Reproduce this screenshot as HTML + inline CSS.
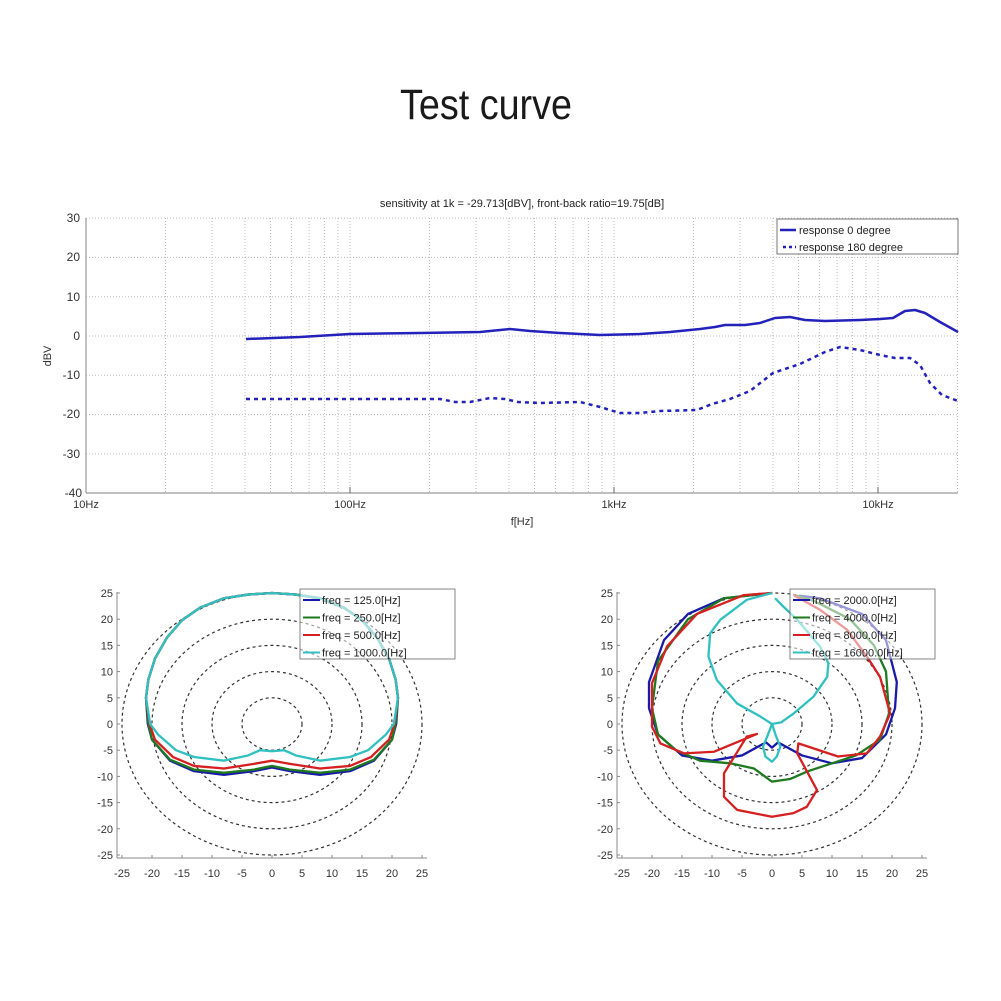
<!DOCTYPE html>
<html><head><meta charset="utf-8"><style>
html,body{margin:0;padding:0;background:#fff;}
svg{display:block;font-family:"Liberation Sans",sans-serif;}
</style></head><body>
<svg id="s" width="1001" height="1001" viewBox="0 0 1001 1001" xmlns="http://www.w3.org/2000/svg">
<rect width="1001" height="1001" fill="#fff"/>
<text x="486" y="119" font-size="43" text-anchor="middle" textLength="172" lengthAdjust="spacingAndGlyphs" fill="#1a1a1a">Test curve</text>
<g id="topg"></g>
<text x="522" y="207" font-size="11" text-anchor="middle" fill="#222">sensitivity at 1k = -29.713[dBV], front-back ratio=19.75[dB]</text>
<g font-size="12" fill="#333" text-anchor="end">
<text x="80" y="222">30</text><text x="80" y="261">20</text><text x="80" y="301">10</text><text x="80" y="340">0</text>
<text x="80" y="379">-10</text><text x="80" y="418">-20</text><text x="80" y="458">-30</text><text x="82" y="497">-40</text>
</g>
<g font-size="11" fill="#333" text-anchor="middle">
<text x="86" y="508">10Hz</text><text x="350" y="508">100Hz</text><text x="614" y="508">1kHz</text><text x="878" y="508">10kHz</text>
<text x="522" y="525">f[Hz]</text>
</g>
<text x="51" y="356" font-size="11" fill="#333" text-anchor="middle" transform="rotate(-90 51 356)">dBV</text>
<g id="p1"></g><g id="p2"></g>
<rect x="777" y="219" width="181" height="35" fill="#fff" stroke="#555" stroke-width="0.8"/>
<line x1="780" y1="230" x2="796" y2="230" stroke="#2222bb" stroke-width="2.5"/>
<line x1="783" y1="247" x2="796" y2="247" stroke="#2222bb" stroke-width="2.5" stroke-dasharray="3,3"/>
<text x="799" y="234" font-size="11" fill="#222">response 0 degree</text>
<text x="799" y="251" font-size="11" fill="#222">response 180 degree</text>
</svg>
<script>
(function(){
var NS="http://www.w3.org/2000/svg";
function el(p,t,a){var e=document.createElementNS(NS,t);for(var k in a)e.setAttribute(k,a[k]);p.appendChild(e);return e;}
var tg=document.getElementById('topg');
function fx(f){return 86+264*Math.log10(f/10);}
function fy(d){return 336-3.93*d;}
for(var dec=10;dec<=10000;dec*=10){for(var m=1;m<10;m++){var f=dec*m;var x=fx(f);if(x>958)break;if(x<=86.5)continue;
el(tg,'line',{x1:x,y1:218,x2:x,y2:493,stroke:'#bbb','stroke-width':1,'stroke-dasharray':'1,2'});}}
for(var d=-30;d<=30;d+=10){el(tg,'line',{x1:86,y1:fy(d),x2:958,y2:fy(d),stroke:'#bbb','stroke-width':1,'stroke-dasharray':'1,2'});}
el(tg,'line',{x1:86,y1:218,x2:86,y2:493,stroke:'#999','stroke-width':1.2});
el(tg,'line',{x1:86,y1:493,x2:958,y2:493,stroke:'#999','stroke-width':1.2});
[350,614,878].forEach(function(x){el(tg,'line',{x1:x,y1:487,x2:x,y2:493,stroke:'#666'});});
var solid=[[246,339],[300,337],[350,334],[420,333],[480,332],[510,329],[530,331],[560,333],[600,335],[640,334],[670,332],[700,329],[715,327],[725,325],[745,325],[760,323],[775,318],[790,317],[805,320],[825,321],[860,320],[880,319],[893,318],[905,311],[915,310],[925,313],[940,322],[958,332]];
var dash=[[246,399],[400,399],[440,399],[455,402],[470,402],[490,398],[505,399],[518,402],[540,403],[580,402],[600,407],[620,413],[640,413],[660,411],[697,410],[712,404],[730,399],[750,391],[773,373],[800,364],[825,352],[840,347],[860,350],[880,355],[895,358],[910,358],[920,365],[930,383],[942,395],[958,401]];
function pts(a){return a.map(function(p){return p[0]+','+p[1];}).join(' ');}
el(tg,'polyline',{points:pts(solid),fill:'none',stroke:'#2222bb','stroke-width':2.5,'stroke-linejoin':'round'});
el(tg,'polyline',{points:pts(dash),fill:'none',stroke:'#2222bb','stroke-width':2.5,'stroke-dasharray':'4,4'});

function polar(g,cx,cy,series,legend,lx,ly,lw){
 var sx=6,sy=5.24;
 for(var r=5;r<=25;r+=5)el(g,'ellipse',{cx:cx,cy:cy,rx:r*sx,ry:r*sy,fill:'none',stroke:'#333','stroke-width':1.2,'stroke-dasharray':'3,3'});
 var L=cx-155, B=cy+134;
 el(g,'line',{x1:L,y1:cy-132,x2:L,y2:B,stroke:'#888'});
 el(g,'line',{x1:L,y1:B,x2:cx+155,y2:B,stroke:'#888'});
 for(var v=-25;v<=25;v+=5){
  var y=cy-v*sy; var t=el(g,'text',{x:L-4,y:y+4,'font-size':11,'text-anchor':'end',fill:'#333'});t.textContent=v;
  el(g,'line',{x1:L,y1:y,x2:L+3,y2:y,stroke:'#888'});
  var x=cx+v*sx; var t2=el(g,'text',{x:x,y:B+19,'font-size':11,'text-anchor':'middle',fill:'#333'});t2.textContent=v;
  el(g,'line',{x1:x,y1:B,x2:x,y2:B-3,stroke:'#888'});
 }
 series.forEach(function(s){
  s.d.forEach(function(seg){
   el(g,'polyline',{points:seg.map(function(p){return (cx+p[0]*sx)+','+(cy-p[1]*sy);}).join(' '),fill:'none',stroke:s.c,'stroke-width':2.3,'stroke-linejoin':'round'});
  });
 });
 el(g,'rect',{x:lx,y:ly,width:lw,height:70,fill:'rgba(255,255,255,0.55)',stroke:'#666','stroke-width':0.8});
 legend.forEach(function(t,i){
  var yy=ly+11+i*17.5;
  el(g,'line',{x1:lx+3,y1:yy,x2:lx+20,y2:yy,stroke:series[i].c,'stroke-width':2});
  var tt=el(g,'text',{x:lx+22,y:yy+4,'font-size':11,fill:'#222'});tt.textContent=t;
 });
}
function mir(a){
 var r=a.slice(); var l=a.slice().reverse().map(function(p){return [-p[0],p[1]];});
 return r.concat(l.slice(1));
}
var up=[[0,25],[4,24.7],[8,24],[12,22.2],[15,19.8],[17.5,16.5],[19.5,12.5],[20.6,8.5],[21,5]];
var base=up.concat([[20.7,0],[20,-3],[17,-7],[13,-9],[8,-9.7],[3,-9],[0,-8.3]]);
var green=up.concat([[20.6,0],[20,-3],[17,-6.8],[13,-8.7],[8,-9.3],[3,-8.7],[0,-8]]);
var red=up.concat([[20.4,0],[19.5,-3],[16.5,-6.3],[13,-8],[8,-8.5],[3,-7.6],[0,-7]]);
var cyan=up.concat([[20.3,0],[19,-2],[16,-5],[13,-6.3],[8,-7],[4,-6],[2,-5],[0,-5.2]]);
polar(document.getElementById('p1'),272,724,[
 {c:'#1a1aa8',d:[mir(base)]},{c:'#1e7a1e',d:[mir(green)]},{c:'#d42020',d:[mir(red)]},{c:'#30c0c0',d:[mir(cyan)]}],
 ['freq = 125.0[Hz]','freq = 250.0[Hz]','freq = 500.0[Hz]','freq = 1000.0[Hz]'],300,589,155);
var b2=[[0,25],[-8,24],[-14,21],[-18,16],[-20.5,8],[-20.5,3],[-19,-2],[-15,-6],[-10,-7],[-5,-6],[-1,-3.5],[0,-4.5],[1,-3.5],[5,-6],[10,-7.5],[15,-6.5],[19,-2],[20.5,3],[20.8,8],[19,16],[15,21],[8,24],[4.5,24.5]];
var g2=[[0,25],[-8,24],[-14,20],[-19,12],[-20,3],[-19,-2],[-16,-5],[-12,-7],[-7,-7.5],[-3,-8.5],[0,-11],[3,-10.5],[6,-9],[10,-7.5],[14,-6],[18,-3],[19.5,2],[19,10],[17,15],[13,20],[7,23.5],[4,24.5]];
var r2=[[0,25],[-4.7,24.6],[-12.5,21],[-17.5,14.8],[-20,7.8],[-20,-0.5],[-18.6,-3.7],[-14.7,-5.6],[-9.7,-5.3],[-2.5,-1.9],[-4.2,-2.4],[-8,-9.4],[-8,-13.9],[-5.8,-16.4],[0,-17.7],[3.6,-17],[5.8,-15.8],[7.5,-12.6],[4.2,-5.6],[4.4,-3.7],[11,-6.2],[15.8,-5.6],[18,-2.4],[19.7,2],[18,9],[15.8,12.9],[12.5,18],[8,21.8],[3.6,24.6]];
var c2=[[0,25],[-4.2,23.7],[-8.6,19.9],[-10.3,17.3],[-10.6,12.9],[-9.2,8.4],[-5.8,3.9],[-1.9,1.4],[0,0],[1.5,0.3],[3.6,2],[6.9,5.2],[9.2,9],[9.4,11.6],[8,14.8],[4.2,19.9],[1.9,22.4],[0.5,24]];
var c2b=[[0,0],[-0.8,-2.4],[-1.5,-4.3],[-1.1,-6.2],[0,-7.2],[0.8,-6.2],[1.4,-4.3],[0.7,-2.4],[0,0]];
polar(document.getElementById('p2'),772,724,[
 {c:'#1a1aa8',d:[b2]},{c:'#1e7a1e',d:[g2]},{c:'#d42020',d:[r2]},{c:'#30c0c0',d:[c2,c2b]}],
 ['freq = 2000.0[Hz]','freq = 4000.0[Hz]','freq = 8000.0[Hz]','freq = 16000.0[Hz]'],790,589,145);
})();
</script>
</body></html>
